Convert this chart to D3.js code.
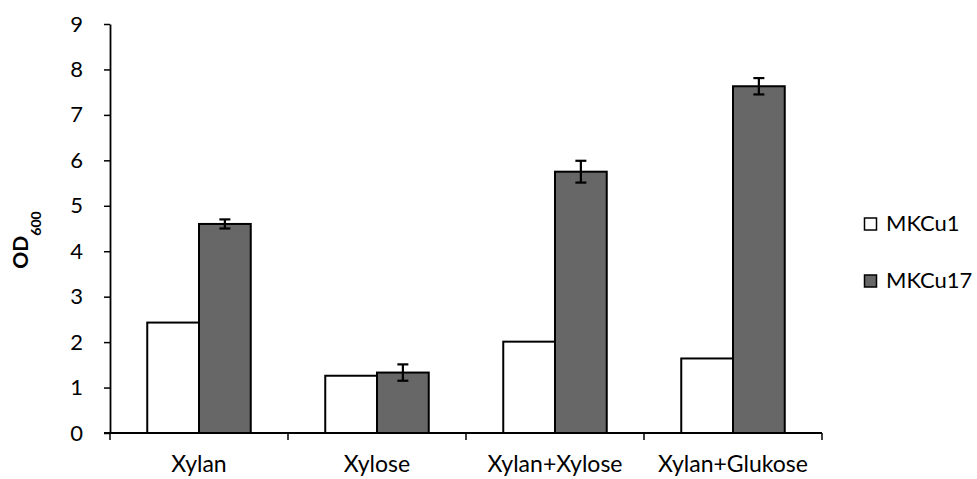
<!DOCTYPE html>
<html>
<head>
<meta charset="utf-8">
<script src="https://cdn.jsdelivr.net/npm/d3@7"></script>
<style>
  html, body { margin: 0; padding: 0; background: #fff; }
  svg { display: block; font-family: Lato, "Open Sans", sans-serif; }
</style>
</head>
<body>
<svg id="chart" width="977" height="479"></svg>
<script>
// OD600 readings per carbon source for two strains
const categories = ["Xylan", "Xylose", "Xylan+Xylose", "Xylan+Glukose"];
const seriesNames = ["MKCu1", "MKCu17"];
const mkcu1Values = [2.43, 1.26, 2.01, 1.64];
const mkcu17Values = [4.60, 1.33, 5.75, 7.63];
const mkcu17Errors = [0.10, 0.18, 0.24, 0.18];
const yTicks = [0, 1, 2, 3, 4, 5, 6, 7, 8, 9];

const seriesColors = ["#ffffff", "#676767"];
const seriesValues = [mkcu1Values, mkcu17Values];

const FONT = "Lato, 'Open Sans', sans-serif";
const svg = d3.select("#chart");
const margin = { left: 110, right: 977 - 822, top: 24, bottom: 479 - 433 };
const width = 977 - margin.left - margin.right;
const height = 479 - margin.top - margin.bottom;

const g = svg.append("g").attr("transform", `translate(${margin.left},${margin.top})`);

const x = d3.scaleBand().domain(categories).range([0, width]).paddingInner(0).paddingOuter(0);
const inner = d3.scaleBand().domain(seriesNames).range([0, x.bandwidth()]).paddingInner(0).paddingOuter(0.72);
const y = d3.scaleLinear().domain([0, 9]).range([height, 0]);

// bars
seriesNames.forEach((name, si) => {
  g.append("g").selectAll("rect")
    .data(categories.map((c, i) => ({ c, v: seriesValues[si][i] })))
    .join("rect")
    .attr("x", d => x(d.c) + inner(name))
    .attr("y", d => y(d.v))
    .attr("width", inner.bandwidth())
    .attr("height", d => y(0) - y(d.v))
    .attr("fill", seriesColors[si])
    .attr("stroke", "#000")
    .attr("stroke-width", 2);
});

// error bars on MKCu17
const capW = 11;
const eb = g.append("g").attr("stroke", "#000").attr("stroke-width", 2.2);
categories.forEach((c, i) => {
  const cx = x(c) + inner("MKCu17") + inner.bandwidth() / 2;
  const v = mkcu17Values[i], e = mkcu17Errors[i];
  eb.append("line").attr("x1", cx).attr("x2", cx).attr("y1", y(v + e)).attr("y2", y(v - e));
  eb.append("line").attr("x1", cx - capW / 2).attr("x2", cx + capW / 2).attr("y1", y(v + e)).attr("y2", y(v + e));
  eb.append("line").attr("x1", cx - capW / 2).attr("x2", cx + capW / 2).attr("y1", y(v - e)).attr("y2", y(v - e));
});

// y axis
const yAxis = g.append("g")
  .call(d3.axisLeft(y).tickValues(yTicks).tickFormat(d3.format("d")).tickSizeInner(6).tickSizeOuter(0).tickPadding(21));
yAxis.select(".domain").attr("stroke", "#000").attr("stroke-width", 1.8);
yAxis.selectAll(".tick line").attr("stroke", "#000").attr("stroke-width", 1.5);
yAxis.selectAll(".tick text").attr("font-size", 22).attr("fill", "#000")
  .attr("font-family", FONT);

// x axis with ticks at band boundaries
const xAxis = g.append("g").attr("transform", `translate(0,${height})`);
xAxis.append("line").attr("x1", -6).attr("x2", width).attr("stroke", "#000").attr("stroke-width", 2);
const bounds = [0].concat(categories.map(c => x(c) + x.bandwidth()));
xAxis.selectAll("line.tk").data(bounds).join("line").attr("class", "tk")
  .attr("x1", d => d).attr("x2", d => d).attr("y1", 0).attr("y2", 7)
  .attr("stroke", "#000").attr("stroke-width", 1.5);
xAxis.selectAll("text").data(categories).join("text")
  .attr("x", d => x(d) + x.bandwidth() / 2)
  .attr("y", 39)
  .attr("text-anchor", "middle")
  .attr("font-size", 23)
  .attr("font-family", FONT)
  .attr("fill", "#000")
  .text(d => d);

// y axis title: OD600
const yt = svg.append("text")
  .attr("transform", "translate(28,240) rotate(-90)")
  .attr("text-anchor", "middle")
  .attr("font-weight", "bold")
  .attr("font-size", 21)
  .attr("font-family", FONT)
  .attr("fill", "#000");
yt.append("tspan").text("OD");
yt.append("tspan").attr("font-size", 14).attr("dy", 13).text("600");

// legend
const legend = svg.append("g").attr("transform", "translate(864,218)");
seriesNames.forEach((name, i) => {
  const row = legend.append("g").attr("transform", `translate(0,${i * 57})`);
  row.append("rect").attr("x", 0.5).attr("y", 0).attr("width", 12).attr("height", 12)
    .attr("fill", seriesColors[i]).attr("stroke", "#000").attr("stroke-width", 1.5);
  row.append("text").attr("x", 22).attr("y", 13).attr("font-size", 22)
    .attr("font-family", FONT).attr("fill", "#000").text(name);
});
</script>
</body>
</html>
